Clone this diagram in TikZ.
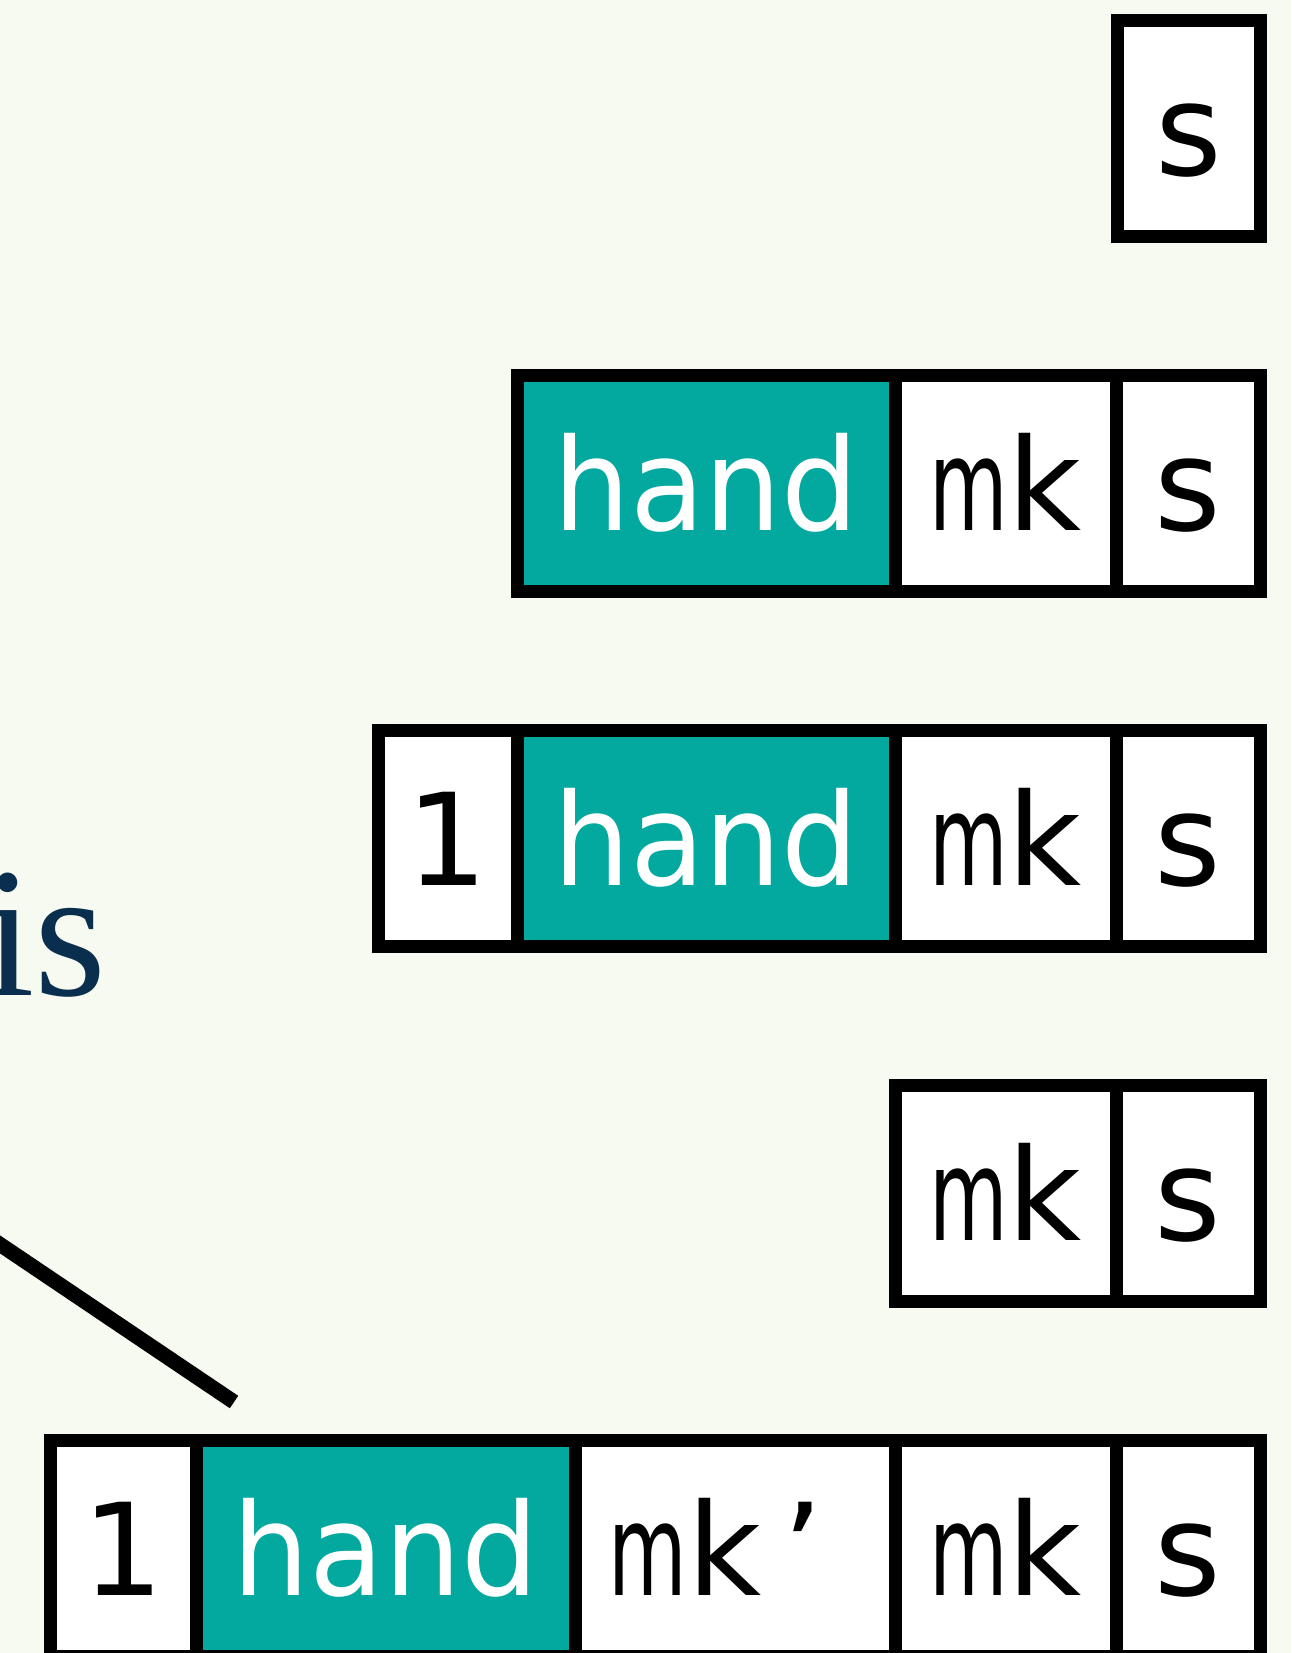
\documentclass[tikz,border=0pt]{standalone}
\usepackage{fontspec}
\setmainfont{DejaVu Sans}
\newfontfamily\glossfont{Liberation Serif}
\definecolor{paper}{HTML}{F7FAF0}
\definecolor{rootfill}{HTML}{03A99E}
\definecolor{glossblue}{HTML}{0A2F4E}
\tikzset{every picture/.style={line width=13pt, x=1pt, y=-1pt}}
% narrow m as in the morpheme labels
\newcommand{\mk}{\scalebox{0.63}[1]{m}k}

\begin{document}
\begin{tikzpicture}
\fill[paper] (0,0) rectangle (1291,1653);
\useasboundingbox (0,0) rectangle (1291,1653);

\node[glossblue, anchor=base east, inner sep=0pt, font=\glossfont\fontsize{185}{185}\selectfont] (is) at (113,995) {is};

\begin{scope}[every node/.style={draw, fill=white, outer sep=0pt, inner sep=0pt,
    minimum height=216pt, text height=104pt, text depth=10pt,
    font=\fontsize{128}{128}\selectfont},
    root/.style={fill=rootfill, text=white}]
\node[minimum width=143pt] (s1) at (1188.5,128.5) {s};

\node[root, minimum width=378pt] (hand2) at (706,483.5) {\scalebox{0.95}[1]{hand}};
\node[minimum width=221pt] (mk2) at (1005.5,483.5) {\mk};
\node[minimum width=144pt] (s2) at (1188,483.5) {s};

\node[minimum width=139pt] (one3) at (447.5,838.5) {1};
\node[root, minimum width=378pt] (hand3) at (706,838.5) {\scalebox{0.95}[1]{hand}};
\node[minimum width=221pt] (mk3) at (1005.5,838.5) {\mk};
\node[minimum width=144pt] (s3) at (1188,838.5) {s};

\node[minimum width=221pt] (mk4) at (1005.5,1193.5) {\mk};
\node[minimum width=144pt] (s4) at (1188,1193.5) {s};

\node[minimum width=146pt] (one5) at (123,1548.5) {1};
\node[root, minimum width=379pt] (hand5) at (385.5,1548.5) {\scalebox{0.95}[1]{hand}};
\node[minimum width=320pt] (mkp5) at (735,1548.5) {\mk\,’\kern38pt};
\node[minimum width=221pt] (mk5) at (1005.5,1548.5) {\mk};
\node[minimum width=144pt] (s5) at (1188,1548.5) {s};
\end{scope}

\coordinate (up) at (-60,1204);
\coordinate (down) at (234,1402);
\begin{scope}[every edge/.style={draw, line width=15pt}]
    \path (up) edge (down);
\end{scope}
\end{tikzpicture}
\end{document}
